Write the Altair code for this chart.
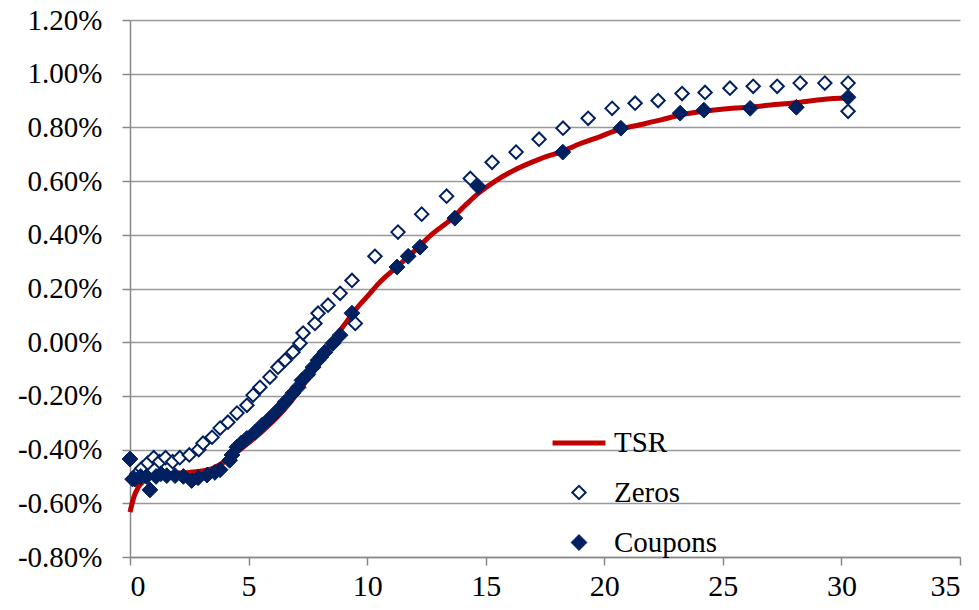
import altair as alt
import pandas as pd

# TSR curve (maturity in years, spread in %)
tsr_x = [0.0, 0.15, 0.35, 0.6, 1.0, 1.5, 2.5, 3.3, 3.9, 4.5, 5.0, 5.6, 6.2, 6.8, 7.3, 7.9,
         8.5, 9.0, 9.5, 10.0, 10.5, 11.25, 12.0, 12.7, 13.5, 14.2, 14.7, 15.4, 16.3, 17.3,
         18.2, 19.0, 19.8, 20.6, 21.5, 22.35, 23.2, 24.2, 25.4, 26.2, 27.2, 28.2, 29.2, 30.3]
tsr_y = [-0.633, -0.58, -0.54, -0.515, -0.50, -0.49, -0.485, -0.475, -0.45, -0.41, -0.375,
         -0.33, -0.28, -0.22, -0.16, -0.09, 0.00, 0.06, 0.12, 0.17, 0.22, 0.28, 0.34, 0.40,
         0.455, 0.515, 0.555, 0.60, 0.645, 0.683, 0.71, 0.74, 0.765, 0.792, 0.81, 0.827,
         0.846, 0.86, 0.871, 0.876, 0.885, 0.893, 0.904, 0.91]

# Zero-coupon bonds
zeros_x = [0.1, 0.3, 0.5, 0.75, 1.0, 1.25, 1.5, 1.8, 2.1, 2.5, 2.9, 3.08, 3.46, 3.8, 4.13,
           4.51, 4.93, 5.19, 5.48, 5.9, 6.24, 6.54, 6.87, 7.17, 7.3, 7.8, 7.93, 8.35, 8.86,
           9.36, 9.5, 10.33, 11.3, 12.3, 13.35, 14.35, 15.27, 16.28, 17.25, 18.26, 19.32,
           20.33, 21.3, 22.27, 23.28, 24.25, 25.3, 26.28, 27.29, 28.26, 29.3, 30.28, 30.28]
zeros_y = [-0.51, -0.49, -0.47, -0.45, -0.43, -0.445, -0.43, -0.445, -0.43, -0.42, -0.40,
           -0.376, -0.354, -0.32, -0.298, -0.264, -0.235, -0.197, -0.168, -0.13, -0.093,
           -0.067, -0.037, -0.004, 0.034, 0.07, 0.108, 0.138, 0.182, 0.23, 0.07, 0.32, 0.41,
           0.477, 0.544, 0.61, 0.67, 0.708, 0.756, 0.797, 0.834, 0.871, 0.89, 0.90, 0.926,
           0.93, 0.946, 0.953, 0.953, 0.965, 0.965, 0.965, 0.86]

# Coupon bonds
coupons_x = [0.0, 0.2, 0.45, 0.7, 0.84, 1.1, 1.3, 1.55, 1.9, 2.25, 2.6, 2.87, 3.25, 3.58,
             3.8, 4.2, 4.3, 4.51, 4.7, 4.93, 5.27, 5.57, 5.9, 6.24, 6.54, 6.87, 7.09, 7.25,
             7.5, 7.72, 7.93, 8.05, 8.22, 8.56, 8.86, 9.36, 11.26, 11.73, 12.23, 13.7, 14.68,
             18.25, 20.7, 23.2, 24.2, 26.15, 28.1, 30.28]
coupons_y = [-0.435, -0.51, -0.50, -0.50, -0.55, -0.50, -0.49, -0.497, -0.497, -0.50, -0.515,
             -0.505, -0.495, -0.485, -0.475, -0.44, -0.42, -0.391, -0.375, -0.358, -0.335,
             -0.309, -0.283, -0.253, -0.223, -0.19, -0.168, -0.142, -0.12, -0.093, -0.067,
             -0.055, -0.037, -0.004, 0.026, 0.108, 0.28, 0.32, 0.354, 0.462, 0.58, 0.708,
             0.797, 0.853, 0.864, 0.871, 0.875, 0.912]

series = ["TSR", "Zeros", "Coupons"]
x_ticks = [0, 5, 10, 15, 20, 25, 30, 35]
y_ticks = [-0.8, -0.6, -0.4, -0.2, 0.0, 0.2, 0.4, 0.6, 0.8, 1.0, 1.2]

RED = "#C00000"
NAVY = "#002060"
FONT = "Liberation Serif, Times New Roman, serif"

tsr_df = pd.DataFrame({"x": tsr_x, "y": tsr_y, "series": "TSR"})
pts_df = pd.concat([
    pd.DataFrame({"x": zeros_x, "y": zeros_y, "series": "Zeros"}),
    pd.DataFrame({"x": coupons_x, "y": coupons_y, "series": "Coupons"}),
], ignore_index=True)

xs = alt.Scale(domain=[0, 35], nice=False, zero=False)
ys = alt.Scale(domain=[-0.8, 1.2], nice=False, zero=False)


def x_axis():
    return alt.Axis(values=x_ticks, grid=False, title=None, labelFont=FONT, labelFontSize=30,
                    labelColor="black", tickSize=8, tickColor="#888888", tickWidth=1.5,
                    domainColor="#888888", domainWidth=1.5, labelPadding=6)


def y_axis():
    return alt.Axis(values=y_ticks, grid=True, gridColor="#999999", gridWidth=1.5,
                    title=None, labelFont=FONT, labelFontSize=29, labelColor="black",
                    tickSize=8, tickColor="#888888", tickWidth=1.5, domainColor="#888888",
                    domainWidth=1.5, labelPadding=20,
                    labelExpr="(datum.value < 0 ? '-' : '') + format(abs(datum.value), '.2f') + '%'")


line = alt.Chart(tsr_df).mark_line(color=RED, strokeWidth=5, interpolate="monotone").encode(
    x=alt.X("x:Q", scale=xs, axis=x_axis()),
    y=alt.Y("y:Q", scale=ys, axis=y_axis()),
    order="x:Q",
)

legend = alt.Legend(title=None, orient="none", legendX=420, legendY=394, labelFont=FONT,
                    labelFontSize=29, labelColor="black", labelOffset=6, rowPadding=20,
                    padding=0, symbolLimit=0)


def sc(rng):
    return alt.Scale(type="ordinal", domain=series, range=rng)


points = alt.Chart(pts_df).mark_point(filled=False, opacity=1).encode(
    x=alt.X("x:Q", scale=xs, axis=x_axis()),
    y=alt.Y("y:Q", scale=ys, axis=y_axis()),
    color=alt.Color("series:N", scale=sc([RED, NAVY, NAVY]), legend=legend),
    shape=alt.Shape("series:N", scale=sc(["stroke", "diamond", "diamond"]), legend=legend),
    fill=alt.Fill("series:N", scale=sc([RED, "white", NAVY]), legend=legend),
    size=alt.Size("series:N", scale=sc([2800, 180, 250]), legend=legend),
    strokeWidth=alt.StrokeWidth("series:N", scale=sc([5, 2, 1]), legend=legend),
)

chart = alt.layer(line, points).properties(
    width=830, height=537,
    autosize=alt.AutoSizeParams(type="none"),
    padding={"left": 122, "top": 12, "right": 11, "bottom": 45},
).configure(background="white", font=FONT).configure_axis(
    labelFont=FONT
).configure_view(stroke=None)

chart.save("out.html", embed_options={"renderer": "svg", "actions": False})
